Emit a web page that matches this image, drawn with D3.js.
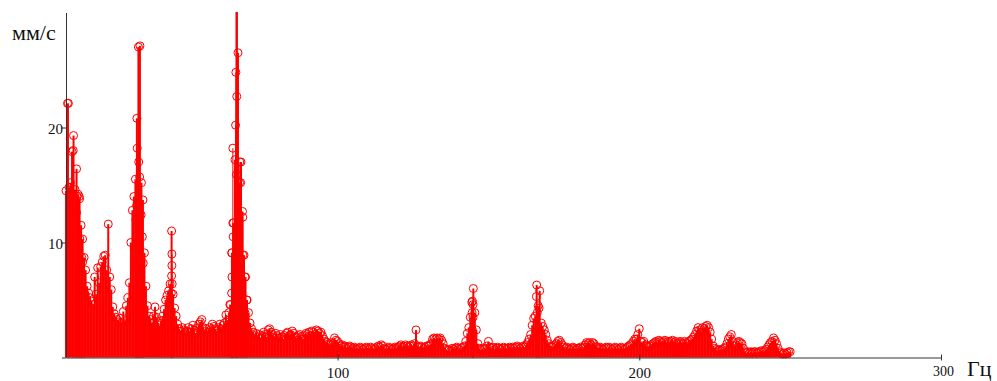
<!DOCTYPE html>
<html>
<head>
<meta charset="utf-8">
<script src="https://cdn.jsdelivr.net/npm/d3@7"></script>
<style>
  html, body { margin: 0; padding: 0; background: #fff; }
  svg { display: block; }
  text { font-family: "Liberation Serif", "Times New Roman", serif; fill: #111; }
</style>
</head>
<body>
<svg id="chart" width="997" height="381"></svg>
<script>
// Vibration velocity spectrum (mm/s), bins every 0.5 Hz from 10 Hz to 250 Hz
const binStart = 10;
const binStep = 0.5;
const amplitude = [
  // 10–20 Hz
  14.5, 22.1, 14.8, 15.2, 17.9, 19.3, 14.6, 16.4, 14.2, 13.8, 11.5, 10.3, 8.7, 7.6, 6.2, 5.6, 5.2, 4.9, 4.6, 7.0,
  // 20–30 Hz
  5.5, 7.8, 6.5, 7.9, 8.3, 8.8, 8.9, 7.6, 11.6, 7.0, 5.9, 4.4, 3.8, 3.5, 3.3, 3.1, 3.4, 3.0, 4.0, 3.2,
  // 30–40 Hz
  4.5, 5.2, 6.5, 10.0, 12.8, 14.0, 15.5, 20.8, 27.0, 27.1, 15.2, 13.7, 9.1, 6.2, 4.5, 3.6, 3.3, 3.0, 3.6, 4.4,
  // 40–50 Hz
  3.5, 3.0, 2.8, 3.2, 3.6, 4.2, 5.0, 5.4, 5.8, 6.4, 11.0, 5.5, 4.3, 3.6, 2.9, 2.5, 2.3, 2.6, 2.4, 2.2,
  // 50–60 Hz
  2.3, 2.6, 2.2, 2.5, 2.8, 2.4, 2.1, 2.6, 2.9, 3.1, 3.3, 2.6, 2.3, 2.5, 2.2, 2.6, 2.4, 2.9, 2.7, 2.5,
  // 60–70 Hz
  2.3, 2.6, 2.9, 2.5, 2.8, 3.0, 3.7, 3.2, 3.9, 4.6, 9.1, 11.7, 17.2, 33.0, 26.5, 15.2, 17.0, 12.7, 8.9, 7.0,
  // 70–80 Hz
  5.0, 3.9, 3.0, 2.5, 2.2, 1.9, 2.1, 1.8, 2.0, 1.7, 1.9, 2.2, 2.0, 1.8, 2.4, 2.5, 2.2, 2.0, 1.8, 2.1,
  // 80–90 Hz
  1.9, 1.7, 2.0, 1.8, 1.6, 1.9, 2.1, 2.2, 1.9, 2.0, 2.3, 2.1, 1.8, 1.7, 1.9, 2.0, 1.8, 1.6, 1.9, 2.1,
  // 90–100 Hz
  2.0, 2.2, 1.9, 2.3, 2.2, 2.0, 2.4, 2.3, 2.1, 2.2, 1.9, 1.6, 1.4, 1.3, 1.2, 1.1, 1.3, 1.2, 1.7, 1.5,
  // 100–110 Hz
  1.4, 1.2, 1.0, 1.1, 0.9, 1.0, 0.8, 0.9, 1.0, 0.9, 0.8, 0.9, 0.8, 0.7, 0.8, 0.9, 0.8, 0.7, 0.8, 0.9,
  // 110–120 Hz
  0.8, 0.7, 0.9, 0.8, 0.7, 0.8, 0.9, 1.0, 0.9, 1.1, 1.0, 0.8, 0.7, 0.8, 0.9, 0.8, 0.7, 0.8, 0.9, 0.8,
  // 120–130 Hz
  0.9, 1.0, 1.1, 0.9, 1.0, 1.1, 1.0, 0.9, 1.0, 1.1, 1.0, 1.2, 2.4, 1.0, 0.9, 1.0, 0.9, 0.8, 0.9, 1.0,
  // 130–140 Hz
  1.0, 1.1, 1.2, 1.6, 1.7, 1.6, 1.7, 1.6, 1.7, 1.5, 1.2, 0.8, 0.7, 0.6, 0.7, 0.6, 0.8, 0.7, 0.8, 0.9,
  // 140–150 Hz
  0.8, 0.7, 0.8, 0.9, 1.0, 1.4, 2.1, 2.6, 3.5, 4.8, 6.0, 3.9, 2.4, 1.2, 0.8, 0.7, 0.8, 0.7, 0.8, 1.0,
  // 150–160 Hz
  1.4, 0.9, 0.8, 0.9, 0.7, 0.8, 0.9, 0.8, 0.7, 0.8, 0.9, 0.8, 0.7, 0.8, 0.9, 0.8, 0.9, 0.8, 0.9, 1.0,
  // 160–170 Hz
  0.9, 0.8, 0.9, 1.0, 0.9, 1.1, 1.3, 1.6, 2.0, 2.8, 3.4, 3.6, 6.3, 4.5, 5.8, 3.0, 2.7, 2.4, 2.0, 1.5,
  // 170–180 Hz
  1.2, 1.0, 0.9, 1.0, 1.1, 1.2, 1.4, 1.5, 1.3, 1.1, 0.9, 0.8, 0.9, 0.8, 0.7, 0.8, 0.9, 0.8, 0.7, 0.8,
  // 180–190 Hz
  0.8, 0.9, 0.8, 0.9, 1.1, 1.3, 1.2, 1.3, 1.1, 1.3, 1.2, 1.0, 0.9, 0.8, 0.9, 0.8, 0.7, 0.8, 0.9, 0.8,
  // 190–200 Hz
  0.9, 0.8, 0.7, 0.8, 0.9, 0.8, 0.7, 0.8, 0.9, 0.8, 0.7, 0.8, 0.9, 1.0, 1.1, 1.2, 1.4, 1.6, 1.6, 2.0,
  // 200–210 Hz
  2.5, 1.4, 1.3, 1.4, 1.1, 1.0, 0.9, 1.0, 1.1, 1.2, 1.3, 1.4, 1.3, 1.5, 1.4, 1.3, 1.4, 1.5, 1.3, 1.4,
  // 210–220 Hz
  1.3, 1.4, 1.5, 1.3, 1.4, 1.2, 1.3, 1.4, 1.3, 1.2, 1.4, 1.3, 1.2, 1.4, 1.5, 1.6, 1.8, 2.0, 2.3, 2.6,
  // 220–230 Hz
  2.4, 2.2, 2.6, 2.5, 2.7, 2.8, 2.6, 2.2, 1.6, 1.0, 0.8, 0.7, 0.6, 0.7, 0.6, 0.7, 0.8, 0.9, 1.2, 1.6,
  // 230–240 Hz
  1.8, 2.0, 1.4, 1.0, 1.1, 1.3, 1.4, 1.3, 1.2, 0.8, 0.5, 0.4, 0.5, 0.4, 0.5, 0.4, 0.5, 0.5, 0.4, 0.5,
  // 240–250 Hz
  0.5, 0.6, 0.5, 0.6, 0.7, 0.9, 1.1, 1.3, 1.4, 1.7, 1.5, 1.2, 0.8, 0.5, 0.4, 0.3, 0.4, 0.3, 0.4, 0.5, 0.5
];

// Finer spectral lines around the harmonic peaks (Hz, mm/s)
const lineFreqs = [
  10.8, 12.4, 13.7, 14.4, 13.5, 14.6, 15.2, 15.5, 16.2,
  33.6, 34.1, 34.4, 33.4, 33.2, 34.9, 35.3, 33.0, 35.6,
  45.1, 45.1, 45.0, 45.2, 44.9,
  66.8, 66.3, 66.6, 66.2, 65.3, 67.6, 66.5, 67.9, 68.6, 65.3, 65.4, 64.9, 68.6, 65.0, 69.3, 64.9, 69.9, 64.3, 69.3,
  144.7, 144.9, 144.6, 144.9, 144.7,
  165.9, 166.8, 166.2
];
const lineAmps = [
  22.1, 18.0, 14.0, 14.0, 12.6, 10.3, 8.7, 8.3, 5.6,
  18.2, 17.0, 15.7, 13.2, 12.0, 12.4, 10.5, 9.5, 8.2,
  9.0, 8.0, 7.1, 6.4, 5.6,
  32.0, 24.8, 22.7, 20.2, 18.2, 17.0, 15.9, 15.2, 12.2, 11.7, 10.5, 9.1, 8.9, 7.0, 7.0, 5.6, 5.0, 4.6, 3.9,
  4.9, 4.6, 3.9, 3.5, 2.4,
  5.3, 4.3, 3.9
];

const xTickValues = [100, 200, 300];
const yTickValues = [0, 10, 20];
const yTickLabels = ["", "10", "20"];
const xUnit = "Гц";
const yUnit = "мм/с";

const svg = d3.select("#chart");

const x = d3.scaleLinear().domain([10, 300]).range([66, 941]);
const y = d3.scaleLinear().domain([0, 30]).range([357.5, 12.5]);

const binPoints = amplitude.map((v, i) => ({ f: binStart + i * binStep, v }));
const linePoints = lineFreqs.map((f, i) => ({ f, v: lineAmps[i] }));
const points = binPoints.concat(linePoints);

svg.append("defs").append("clipPath").attr("id", "plot-area")
  .append("rect").attr("x", 60).attr("y", 12).attr("width", 900).attr("height", 350);

const marks = svg.append("g").attr("clip-path", "url(#plot-area)");

// stems: the 0.5 Hz bins sit close enough to merge into a solid band
marks.selectAll("line.stem").data(points).join("line")
  .attr("class", "stem")
  .attr("x1", d => x(d.f)).attr("x2", d => x(d.f))
  .attr("y1", y(0)).attr("y2", d => y(d.v))
  .attr("stroke", "#ff0000")
  .attr("stroke-width", (d, i) => i < binPoints.length ? 2 : 1);

marks.selectAll("circle.pt").data(points).join("circle")
  .attr("class", "pt")
  .attr("cx", d => x(d.f)).attr("cy", d => y(d.v)).attr("r", 4)
  .attr("fill", "none").attr("stroke", "#ff0000").attr("stroke-width", 1);

// Axes
const xAxis = svg.append("g").attr("transform", `translate(0,${y(0)})`)
  .call(d3.axisBottom(x).tickValues(xTickValues).tickSizeInner(3).tickSizeOuter(0).tickPadding(7));
const yAxis = svg.append("g").attr("transform", `translate(${x(10)},0)`)
  .call(d3.axisLeft(y).tickValues(yTickValues).tickSizeInner(4).tickSizeOuter(0).tickPadding(0)
    .tickFormat((d, i) => yTickLabels[i]));

[xAxis, yAxis].forEach(g => {
  g.select(".domain").attr("stroke", "#333").attr("stroke-width", 1);
  g.selectAll(".tick line").attr("stroke", "#333");
  g.selectAll(".tick text")
    .style("font-family", '"Liberation Serif", "Times New Roman", serif')
    .attr("fill", "#111");
});
xAxis.selectAll(".tick line").attr("y1", -3).attr("y2", 3);
xAxis.selectAll(".tick text").attr("font-size", 15);
yAxis.selectAll(".tick text").attr("font-size", 15).attr("dy", "0.42em").attr("dx", 1);
// the last tick label sits just right of the axis end, beside the unit
xAxis.selectAll(".tick").filter(d => d === 300).select("text")
  .attr("font-size", 14).attr("y", 18).attr("dy", 0).attr("dx", 2);

svg.append("text").attr("x", 12).attr("y", 40)
  .attr("font-size", 22).text(yUnit);
svg.append("text").attr("x", 967).attr("y", 376)
  .attr("font-size", 22).text(xUnit);
</script>
</body>
</html>
